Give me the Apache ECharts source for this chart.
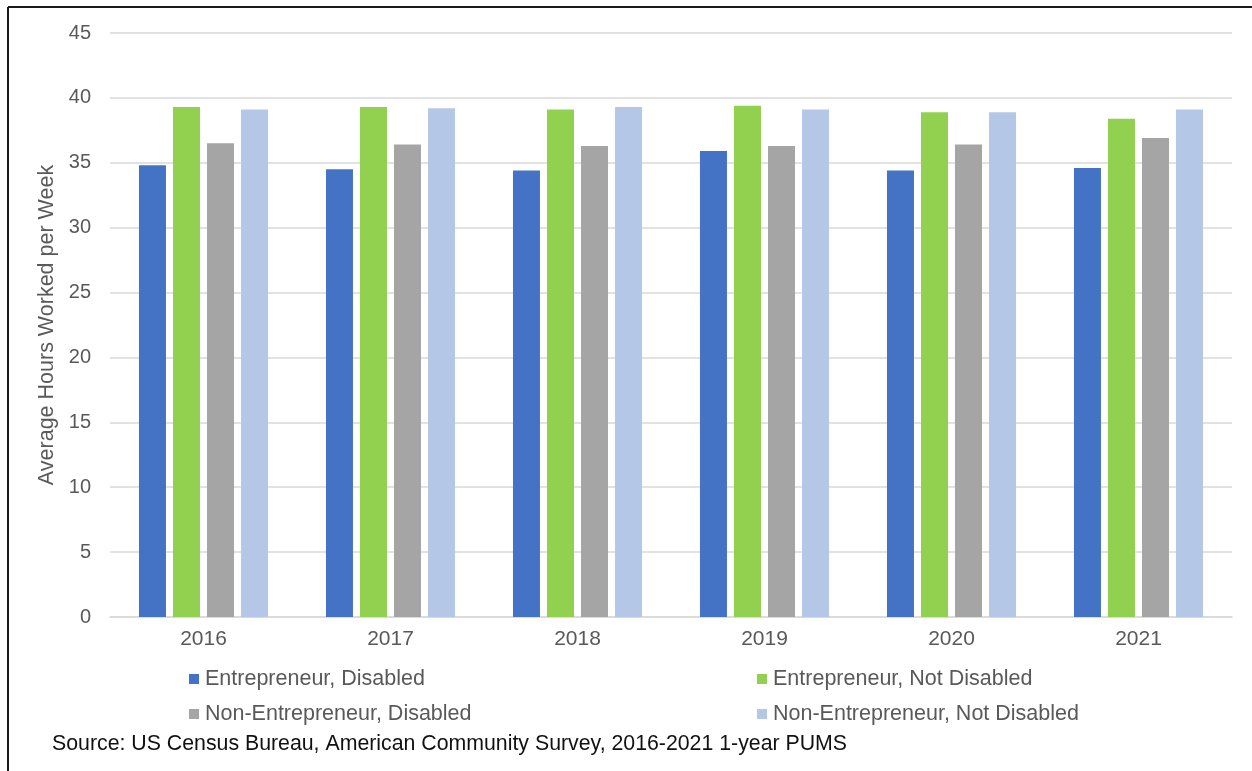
<!DOCTYPE html>
<html>
<head>
<meta charset="utf-8">
<title>Average Hours Worked per Week</title>
<script src="https://cdn.jsdelivr.net/npm/echarts@6/dist/echarts.min.js"></script>
<style>
  html, body { margin: 0; padding: 0; background: #fff; }
  #chart { width: 1252px; height: 771px; }
</style>
</head>
<body>
<div id="chart"></div>
<script>
// Survey years on the category axis
const years = ['2016', '2017', '2018', '2019', '2020', '2021'];

// Average weekly hours by group
const entrepreneurDisabled = [34.8, 34.5, 34.4, 35.9, 34.4, 34.6];
const entrepreneurNotDisabled = [39.3, 39.3, 39.1, 39.4, 38.9, 38.4];
const nonEntrepreneurDisabled = [36.5, 36.4, 36.3, 36.3, 36.4, 36.9];
const nonEntrepreneurNotDisabled = [39.1, 39.2, 39.3, 39.1, 38.9, 39.1];

// Value axis ticks
const yTicks = [0, 5, 10, 15, 20, 25, 30, 35, 40, 45];

const seriesNames = [
  'Entrepreneur, Disabled',
  'Entrepreneur, Not Disabled',
  'Non-Entrepreneur, Disabled',
  'Non-Entrepreneur, Not Disabled'
];
const seriesData = [
  entrepreneurDisabled,
  entrepreneurNotDisabled,
  nonEntrepreneurDisabled,
  nonEntrepreneurNotDisabled
];
const colors = ['#4472C4', '#92D050', '#A5A5A5', '#B4C7E7'];

const FONT = '"Liberation Sans", Arial, sans-serif';
const TEXT = '#595959';

// Legend laid out as a 2x2 grid
const legendSpots = [
  { left: 189, top: 668 },
  { left: 757, top: 668 },
  { left: 189, top: 703 },
  { left: 757, top: 703 }
];

const chart = echarts.init(document.getElementById('chart'), null, { renderer: 'canvas' });

chart.setOption({
  backgroundColor: '#ffffff',
  animation: false,
  color: colors,
  grid: { left: 110, right: 20, top: 33, bottom: 154, containLabel: false },
  legend: seriesNames.map((name, i) => ({
    data: [name],
    left: legendSpots[i].left,
    top: legendSpots[i].top,
    icon: 'rect',
    itemWidth: 10,
    itemHeight: 10,
    itemGap: 0,
    padding: 0,
    selectedMode: false,
    textStyle: { color: TEXT, fontSize: 21.5, fontFamily: FONT, padding: [0, 0, 0, 1] }
  })),
  xAxis: {
    type: 'category',
    data: years,
    axisLine: { show: true, lineStyle: { color: '#D9D9D9', width: 1.5 } },
    axisTick: { show: false },
    axisLabel: { color: TEXT, fontSize: 21, fontFamily: FONT, margin: 12 }
  },
  yAxis: {
    type: 'value',
    min: yTicks[0],
    max: yTicks[yTicks.length - 1],
    interval: yTicks[1] - yTicks[0],
    name: 'Average Hours Worked per Week',
    nameLocation: 'middle',
    nameGap: 52,
    nameTextStyle: { color: TEXT, fontSize: 21.5, fontFamily: FONT },
    axisLine: { show: false },
    axisTick: { show: false },
    splitLine: { lineStyle: { color: '#D9D9D9', width: 1.5 } },
    axisLabel: { color: TEXT, fontSize: 20, fontFamily: FONT, margin: 19 }
  },
  series: seriesNames.map((name, i) => ({
    name: name,
    type: 'bar',
    data: seriesData[i],
    barWidth: 27,
    barGap: '26%',
    itemStyle: { color: colors[i] }
  })),
  graphic: [
    {
      type: 'text',
      left: 52,
      top: 734,
      style: {
        text: 'Source: US Census Bureau, American Community Survey, 2016-2021 1-year PUMS',
        fill: '#111',
        fontSize: 21.3,
        fontFamily: FONT
      }
    },
    {
      type: 'line',
      shape: { x1: 8, y1: 7, x2: 1252, y2: 7 },
      style: { stroke: '#1a1a1a', lineWidth: 2 }
    },
    {
      type: 'line',
      shape: { x1: 8, y1: 7, x2: 8, y2: 771 },
      style: { stroke: '#1a1a1a', lineWidth: 2 }
    }
  ]
});
</script>
</body>
</html>
